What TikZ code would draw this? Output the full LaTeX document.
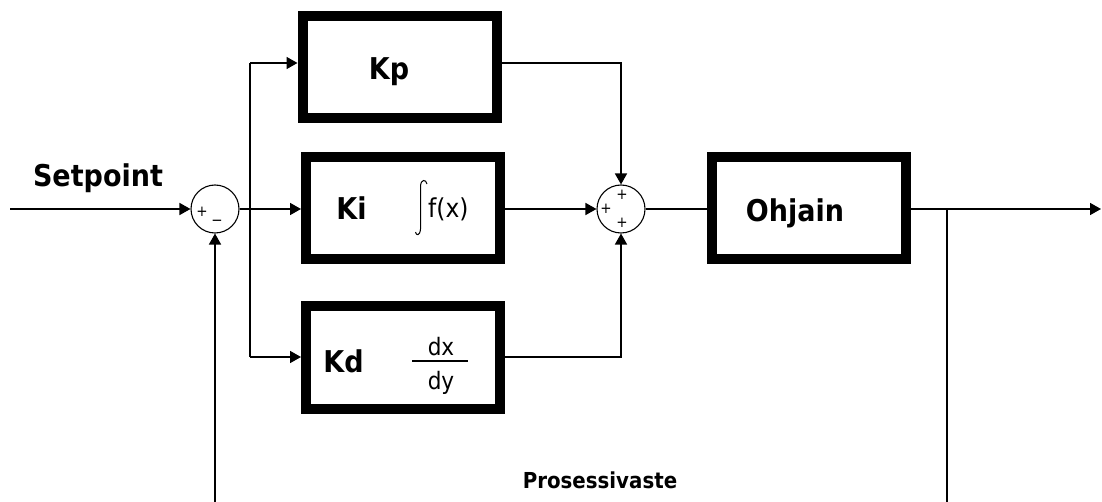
\documentclass[tikz,border=0pt]{standalone}
\usepackage{fontspec}
\newfontfamily\lab{DejaVu Sans}[FakeStretch=0.9]
\usetikzlibrary{arrows.meta}
\tikzset{
  blk/.style={draw, line width=10pt, minimum width=194pt, minimum height=102pt, inner sep=0pt},
  sumnode/.style={draw, circle, line width=1.1pt, minimum size=48pt, inner sep=0pt},
  conn/.style={line width=1.6pt},
  arr/.style={conn, -{Triangle[length=11pt,width=12pt]}},
  big/.style={font=\lab\bfseries\fontsize{30}{30}\selectfont, inner sep=0pt, anchor=base},
  mid/.style={font=\lab\fontsize{24}{24}\selectfont, inner sep=0pt, anchor=base},
  sign/.style={font=\lab\fontsize{15}{15}\selectfont, inner sep=0pt},
}
\begin{document}
\begin{tikzpicture}[x=1pt,y=-1pt]
\useasboundingbox (0,0) rectangle (1102,502);
\clip (0,0) rectangle (1102,502);
% blocks
\node[blk] (Kp) at (399.5,67.5) {};
\node[blk] (Ki) at (403,208) {};
\node[blk] (Kd) at (403,357.5) {};
\node[blk] (Oh) at (809,208) {};
% summing junctions
\node[sumnode] (s1) at (215,209) {};
\node[sumnode] (s2) at (621,209) {};
% signs
\node[sign] (p1) at (202,212) {+};
\node[sign] (m1) at (217,223) {−};
\node[sign] (p2) at (622,195) {+};
\node[sign] (p3) at (606,209) {+};
\node[sign] (p4) at (622,223) {+};
% labels
\node[big] (tKp) at (389,80) {Kp};
\node[big] (tKi) at (351.5,220) {Ki};
\node[big] (tKd) at (343.5,372) {Kd};
\node[big] (tOh) at (795,222) {Ohjain};
\node[big] (tSet) at (98,187) {Setpoint};
\node[font=\lab\bfseries\fontsize{22}{22}\selectfont, inner sep=0pt, anchor=base] (tPro) at (600,488) {Prosessivaste};
\node[mid, anchor=base west, font=\lab\fontsize{26}{26}\selectfont] (tfx) at (428,218) {f(x)};
\draw[line width=1pt] (427,184) .. controls (426,179) and (421,179) .. (420.5,186) -- (420.5,229) .. controls (420,236) and (416,236) .. (415.5,232);
\node[mid] (tdx) at (441,355) {dx};
\node[mid] (tdy) at (441,389) {dy};
\draw[line width=1.6pt] (412,361) -- (468,361);
% coordinates
\coordinate (in) at (10,209);
\coordinate (br) at (250,209);
\coordinate (bt) at (250,63);
\coordinate (bb) at (250,357);
\coordinate (kpr) at (621,63);
\coordinate (kdr) at (621,357);
\coordinate (tap) at (947,209);
\coordinate (tapb) at (947,510);
\coordinate (fbb) at (215,510);
\coordinate (out) at (1101,209);
% connectors
\draw[arr] (in) -- (s1.west);
\draw[conn] (s1.east) -- (br);
\draw[conn] (bt) -- (bb);
\draw[arr] (br) -- (Ki.west |- br);
\draw[arr] (bt) -- (Kp.west |- bt);
\draw[arr] (bb) -- (Kd.west |- bb);
\draw[arr] (Ki.east |- br) -- (s2.west);
\draw[arr] (Kp.east |- bt) -- (kpr) -- (s2.north);
\draw[arr] (Kd.east |- bb) -- (kdr) -- (s2.south);
\draw[conn] (s2.east) -- (Oh.west |- s2);
\draw[arr] (Oh.east |- tap) -- (out);
\draw[conn] (tap) -- (tapb);
\draw[arr] (fbb) -- (s1.south);
\end{tikzpicture}
\end{document}
